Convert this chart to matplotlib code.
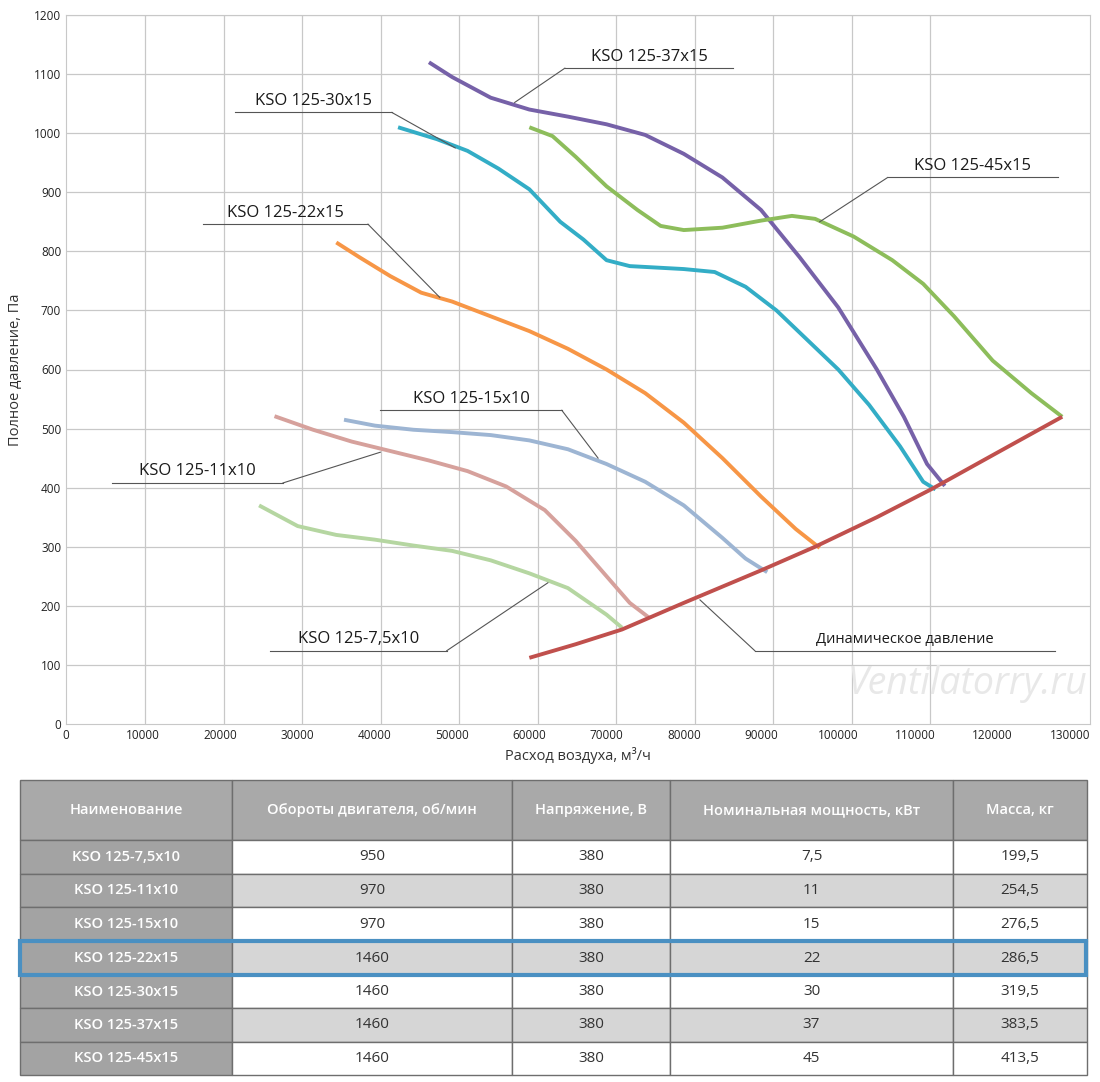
import matplotlib
matplotlib.use("Agg")
import matplotlib.pyplot as plt
from matplotlib.patches import Rectangle

plt.rcParams['font.family'] = ['Open Sans', 'DejaVu Sans']

# ---- data ----
dyn_x = [60000, 66000, 72000, 80000, 90000, 97000, 105000, 112000, 120000, 129000]
dyn_y = [112, 135, 160, 205, 260, 300, 350, 397, 455, 520]
k75_x = [25000, 30000, 35000, 40000, 45000, 50000, 55000, 60000, 65000, 70000, 72000]
k75_y = [370, 335, 320, 312, 302, 293, 277, 255, 230, 185, 163]
k11_x = [27000, 32000, 37000, 42000, 47000, 52000, 57000, 62000, 66000, 70000, 73000, 75500]
k11_y = [521, 498, 478, 462, 446, 428, 402, 362, 310, 250, 205, 180]
k15_x = [36000, 40000, 45000, 50000, 55000, 60000, 65000, 70000, 75000, 80000, 85000, 88000, 90800]
k15_y = [515, 505, 498, 494, 489, 480, 465, 440, 410, 370, 315, 280, 257]
k22_x = [35000, 38000, 42000, 46000, 50000, 55000, 60000, 65000, 70000, 75000, 80000, 85000, 90000, 94500, 97600]
k22_y = [815, 790, 758, 730, 715, 690, 665, 635, 600, 560, 510, 450, 385, 330, 298]
k30_x = [43000, 48000, 52000, 56000, 60000, 64000, 67000, 70000, 73000, 80000, 84000, 88000, 92000, 96000, 100000, 104000, 108000, 111000, 112600]
k30_y = [1010, 990, 970, 940, 905, 850, 820, 785, 775, 770, 765, 740, 700, 650, 600, 540, 470, 410, 397]
k37_x = [47000, 50000, 55000, 60000, 65000, 70000, 75000, 80000, 85000, 90000, 95000, 100000, 105000, 108500, 111500, 113800]
k37_y = [1120, 1095, 1060, 1040, 1028, 1015, 997, 965, 925, 870, 790, 705, 600, 520, 440, 403]
k45_x = [60000, 63000, 66000, 70000, 74000, 77000, 80000, 85000, 90000, 94000, 97000, 102000, 107000, 111000, 115000, 120000, 125000, 129000]
k45_y = [1010, 995, 960, 910, 870, 843, 836, 840, 852, 860, 855, 825, 785, 745, 690, 615, 560, 520]

x_ticks = list(range(0, 130001, 10000))
y_ticks = list(range(0, 1201, 100))

headers = ["Наименование", "Обороты двигателя, об/мин", "Напряжение, В", "Номинальная мощность, кВт", "Масса, кг"]
names = ["KSO 125-7,5x10", "KSO 125-11x10", "KSO 125-15x10", "KSO 125-22x15", "KSO 125-30x15", "KSO 125-37x15", "KSO 125-45x15"]
rpm = ["950", "970", "970", "1460", "1460", "1460", "1460"]
volt = ["380"] * 7
power = ["7,5", "11", "15", "22", "30", "37", "45"]
mass = ["199,5", "254,5", "276,5", "286,5", "319,5", "383,5", "413,5"]

fig = plt.figure(figsize=(11, 10.82), dpi=100)
ax = fig.add_axes([66/1100, 1-724/1082, 1024/1100, 709/1082])
ax.set_xlim(0, 132600)
ax.set_ylim(0, 1200)
for g in range(11):
    ax.axvline(10230 + 10170*g, color='#c8c8c8', lw=0.9, zorder=0)
for t in y_ticks[1:]:
    ax.axhline(t, color='#c8c8c8', lw=0.9, zorder=0)
ax.set_xticks(x_ticks)
ax.set_yticks(y_ticks)
ax.tick_params(length=0, labelsize=8.5, colors='#222222')
for s in ['top', 'right', 'left', 'bottom']:
    ax.spines[s].set_color('#c8c8c8')
ax.set_xlabel("Расход воздуха, м³/ч", fontsize=10.5, color='#333333', labelpad=4)
ax.set_ylabel("Полное давление, Па", fontsize=10.5, color='#333333', labelpad=8)

series = [(k75_x, k75_y, '#b5d6a1'), (k11_x, k11_y, '#d6a19c'), (k15_x, k15_y, '#9db5d3'),
          (k22_x, k22_y, '#f79646'), (k30_x, k30_y, '#33adc6'), (k37_x, k37_y, '#7661a8'),
          (k45_x, k45_y, '#8dbd5b'), (dyn_x, dyn_y, '#c0504d')]
for xs, ys, c in series:
    ax.plot(xs, ys, color=c, lw=2.8, solid_capstyle='butt', solid_joinstyle='round', zorder=3)

labels = [
    ("KSO 125-37x15", 64600, 86400, 1110, (58100, 1052), 'l'),
    ("KSO 125-30x15", 21900, 42200, 1035, (50400, 975), 'r'),
    ("KSO 125-45x15", 106400, 128400, 925, (97600, 850), 'l'),
    ("KSO 125-22x15", 17700, 39100, 846, (48400, 722), 'r'),
    ("KSO 125-15x10", 40700, 64200, 531, (68900, 450), 'r'),
    ("KSO 125-11x10", 6000, 28100, 408, (40700, 460), 'r'),
    ("KSO 125-7,5x10", 26400, 49300, 124, (62400, 239), 'r'),
    ("Динамическое давление", 89200, 128100, 124, (82100, 210), 'l'),
]
for txt, x0, x1, y, tgt, side in labels:
    ax.plot([x0, x1], [y, y], color='#555555', lw=0.8, zorder=4)
    sx = x0 if side == 'l' else x1
    ax.plot([sx, tgt[0]], [y, tgt[1]], color='#555555', lw=0.8, zorder=4)
    fs = 10.5 if txt.startswith("Дин") else 12
    ax.text((x0 + x1) / 2, y + 6, txt, ha='center', va='bottom', fontsize=fs, color='#1a1a1a', zorder=5)

ax.text(132300, 68, "Ventilatorry.ru", fontsize=27, style='italic', color='#e8e8e8',
        ha='right', va='center', zorder=1, clip_on=True)

# ---- table ----
tab = fig.add_axes([0, 0, 1, 1])
tab.set_xlim(0, 1100)
tab.set_ylim(1082, 0)
tab.axis('off')
tab.patch.set_alpha(0)
cols = [20, 232, 512, 670, 953, 1087]
rows = [780, 840, 874, 907, 941, 975, 1008, 1042, 1075]
for j in range(5):
    tab.add_patch(Rectangle((cols[j], rows[0]), cols[j+1]-cols[j], rows[1]-rows[0], fc='#a9a9a9', ec='#6e6e6e', lw=1))
    tab.text((cols[j]+cols[j+1])/2, (rows[0]+rows[1])/2, headers[j], ha='center', va='center',
             fontsize=10.5, color='white', fontweight='semibold')
for i in range(7):
    y0, y1 = rows[i+1], rows[i+2]
    bg = '#d6d6d6' if i in (1, 3, 5) else 'white'
    vals = [names[i], rpm[i], volt[i], power[i], mass[i]]
    for j in range(5):
        fc = '#a3a3a3' if j == 0 else bg
        tab.add_patch(Rectangle((cols[j], y0), cols[j+1]-cols[j], y1-y0, fc=fc, ec='#6e6e6e', lw=1))
        tab.text((cols[j]+cols[j+1])/2, (y0+y1)/2, vals[j], ha='center', va='center',
                 fontsize=11 if j else 10.5, color='white' if j == 0 else '#333333',
                 fontweight='semibold' if j == 0 else 'normal')
tab.add_patch(Rectangle((20, 941), 1066, 34, fc='none', ec='#4a90c2', lw=3, zorder=5))

fig.savefig("out.png", dpi=100)
